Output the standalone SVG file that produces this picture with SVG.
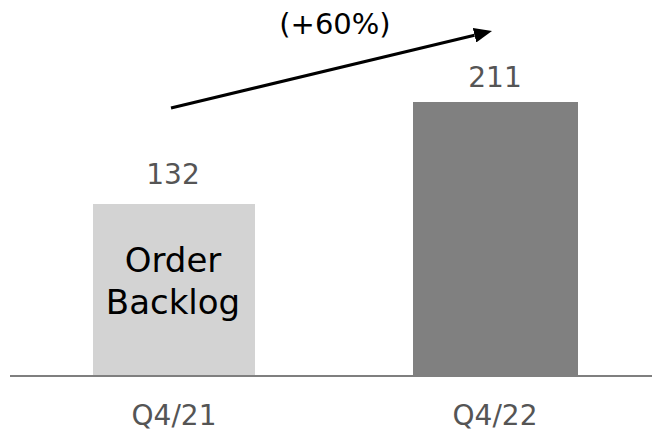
<svg xmlns="http://www.w3.org/2000/svg" width="652" height="435" viewBox="0 0 652 435">
<defs>
<style>
.val{font-family:"DejaVu Sans","Liberation Sans",sans-serif;font-size:28px;fill:#555555;text-anchor:middle}
.in{font-family:"DejaVu Sans","Liberation Sans",sans-serif;font-size:34px;fill:#000;text-anchor:middle}
.pct{font-family:"DejaVu Sans","Liberation Sans",sans-serif;font-size:29px;fill:#000;text-anchor:middle}
</style>
<marker id="ah" markerWidth="6" markerHeight="5" refX="0" refY="2.5" orient="auto" markerUnits="strokeWidth">
<path d="M0,0 L6,2.5 L0,5 z" fill="#000"/>
</marker>
</defs>
<rect width="652" height="435" fill="#fff"/>
<g id="bar-q421">
<rect x="93" y="204" width="162" height="171" fill="#d3d3d3"/>
<text class="val" x="173" y="184">132</text>
<text class="in" x="173" y="272">Order</text>
<text class="in" x="173" y="314">Backlog</text>
<text class="val" x="174" y="425">Q4/21</text>
</g>
<g id="bar-q422">
<rect x="413" y="102" width="165" height="273" fill="#808080"/>
<text class="val" x="495" y="87">211</text>
<text class="val" x="495" y="425">Q4/22</text>
</g>
<g id="axis">
<line x1="10" y1="376" x2="652" y2="376" stroke="#7f7f7f" stroke-width="2"/>
</g>
<g id="connectors">
<line x1="171" y1="108" x2="474.5" y2="35.2" stroke="#000" stroke-width="3" marker-end="url(#ah)"/>
<text class="pct" x="335" y="34">(+60%)</text>
</g>
</svg>
